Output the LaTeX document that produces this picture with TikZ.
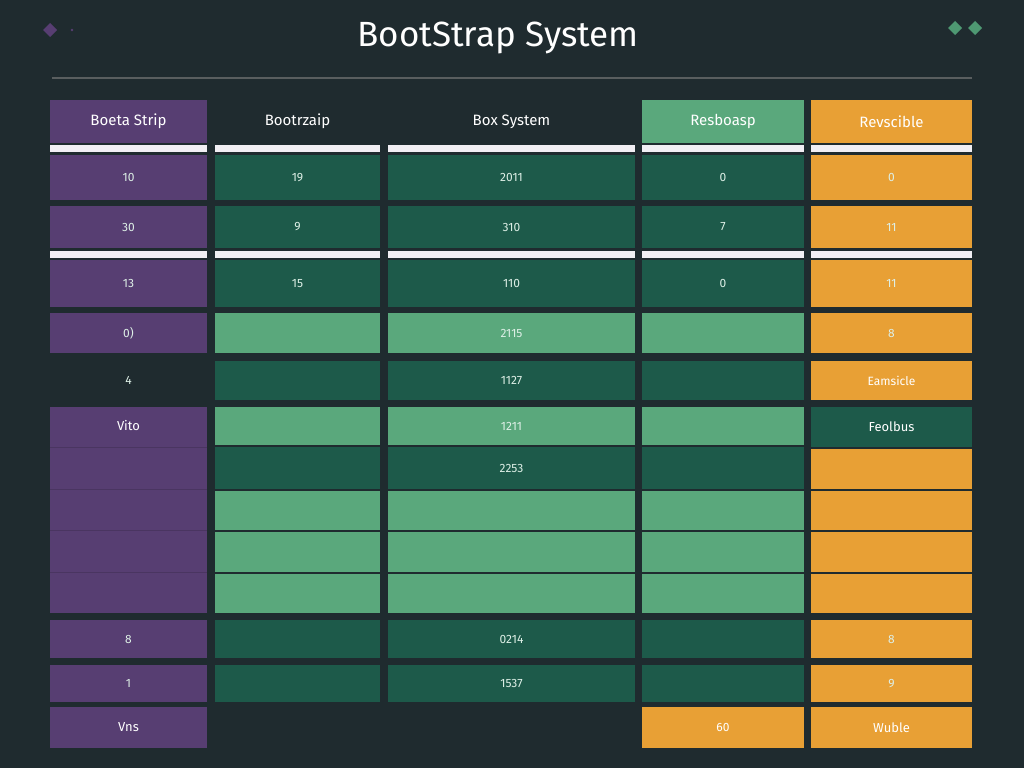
\documentclass[tikz,border=0pt]{standalone}
\usepackage{fontspec}
\setmainfont{Fira Sans}
\definecolor{bg}{HTML}{1F2B2F}
\definecolor{pur}{HTML}{573E72}
\definecolor{dg}{HTML}{1D5A4A}
\definecolor{lg}{HTML}{5AA87C}
\definecolor{org}{HTML}{E8A035}
\definecolor{txl}{HTML}{DDEFE6}
\tikzset{cellb/.style={inner sep=0pt,outer sep=0pt,text=txl,font=\fontsize{12}{14}\selectfont},
 hdr/.style={cellb,text=white,font=\fontsize{15}{17}\selectfont}}
% name, x1, y1, x2, y2, fill, style, text
\newcommand\cellbox[8]{%
 \fill[#6] (#2,#3) rectangle (#4,#5);
 \node[#7] (#1) at ({(#2+#4)/2},{(#3+#5)/2}) {#8};}
\begin{document}
\begin{tikzpicture}[x=1pt,y=-1pt]
\fill[bg] (0,0) rectangle (1024,768);
\useasboundingbox (0,0) rectangle (1024,768);
\node[text=white,font=\fontsize{35}{40}\selectfont] (title) at (498,38) {BootStrap System};
\draw[color=gray!60!bg,line width=1.5pt] (52,78) -- (972,78);
\fill[pur] (50,23) -- (57,30) -- (50,37) -- (43,30) -- cycle;
\fill[pur] (72,30) circle (1.3);
\fill[lg!80!dg] (955,21) -- (962,28) -- (955,35) -- (948,28) -- cycle;
\fill[lg!80!dg] (975,21) -- (982,28) -- (975,35) -- (968,28) -- cycle;
% columns
\def\xa{50}\def\xb{207}\def\xc{215}\def\xd{380}\def\xe{388}\def\xf{635}\def\xg{642}\def\xh{804}\def\xi{811}\def\xj{972}
% header
\cellbox{h1}{\xa}{100}{\xb}{143}{pur}{hdr}{Boeta Strip}
\cellbox{h2}{\xc}{100}{\xd}{143}{bg}{hdr}{Bootrzaip}
\cellbox{h3}{\xe}{100}{\xf}{143}{bg}{hdr}{Box System}
\cellbox{h4}{\xg}{100}{\xh}{143}{lg}{hdr}{Resboasp}
\cellbox{h5}{\xi}{100}{\xj}{143}{org}{hdr}{Revscible}
\foreach \y in {145,251}{
 \fill[white!92!pur] (\xa,\y) rectangle (\xb,\y+7);
 \fill[white!92!pur] (\xc,\y) rectangle (\xd,\y+7);
 \fill[white!92!pur] (\xe,\y) rectangle (\xf,\y+7);
 \fill[white!92!pur] (\xg,\y) rectangle (\xh,\y+7);
 \fill[white!92!pur] (\xi,\y) rectangle (\xj,\y+7);}
% row 1
\cellbox{a1}{\xa}{155}{\xb}{200}{pur}{cellb}{10}
\cellbox{b1}{\xc}{155}{\xd}{200}{dg}{cellb}{19}
\cellbox{c1}{\xe}{155}{\xf}{200}{dg}{cellb}{2011}
\cellbox{d1}{\xg}{155}{\xh}{200}{dg}{cellb}{0}
\cellbox{e1}{\xi}{155}{\xj}{200}{org}{cellb}{0}
% row 2
\cellbox{a2}{\xa}{206}{\xb}{248}{pur}{cellb}{30}
\cellbox{b2}{\xc}{206}{\xd}{248}{dg}{cellb}{9}
\cellbox{c2}{\xe}{206}{\xf}{248}{dg}{cellb}{310}
\cellbox{d2}{\xg}{206}{\xh}{248}{dg}{cellb}{7}
\cellbox{e2}{\xi}{206}{\xj}{248}{org}{cellb}{11}
% row 3
\cellbox{a3}{\xa}{260}{\xb}{307}{pur}{cellb}{13}
\cellbox{b3}{\xc}{260}{\xd}{307}{dg}{cellb}{15}
\cellbox{c3}{\xe}{260}{\xf}{307}{dg}{cellb}{110}
\cellbox{d3}{\xg}{260}{\xh}{307}{dg}{cellb}{0}
\cellbox{e3}{\xi}{260}{\xj}{307}{org}{cellb}{11}
% row 4
\cellbox{a4}{\xa}{313}{\xb}{353}{pur}{cellb}{0)}
\cellbox{b4}{\xc}{313}{\xd}{353}{lg}{cellb}{}
\cellbox{c4}{\xe}{313}{\xf}{353}{lg}{cellb}{2115}
\cellbox{d4}{\xg}{313}{\xh}{353}{lg}{cellb}{}
\cellbox{e4}{\xi}{313}{\xj}{353}{org}{cellb}{8}
% row 5
\cellbox{a5}{\xa}{361}{\xb}{400}{bg}{cellb}{4}
\cellbox{b5}{\xc}{361}{\xd}{400}{dg}{cellb}{}
\cellbox{c5}{\xe}{361}{\xf}{400}{dg}{cellb}{1127}
\cellbox{d5}{\xg}{361}{\xh}{400}{dg}{cellb}{}
\cellbox{e5}{\xi}{361}{\xj}{400}{org}{cellb,text=white}{Eamsicle}
% purple block
\fill[pur] (\xa,407) rectangle (\xb,613);
\foreach \y in {447,489,530,572}{\draw[pur!85!black,line width=0.8pt] (\xa,\y) -- (\xb,\y);}
\node[cellb,text=white,font=\fontsize{13}{15}\selectfont] (a6) at ({(\xa+\xb)/2},426) {Vito};
% row 6
\cellbox{b6}{\xc}{407}{\xd}{445}{lg}{cellb}{}
\cellbox{c6}{\xe}{407}{\xf}{445}{lg}{cellb}{1211}
\cellbox{d6}{\xg}{407}{\xh}{445}{lg}{cellb}{}
\cellbox{e6}{\xi}{407}{\xj}{447}{dg}{cellb,text=white,font=\fontsize{13}{15}\selectfont}{Feolbus}
% row 7
\cellbox{b7}{\xc}{447}{\xd}{489}{dg}{cellb}{}
\cellbox{c7}{\xe}{447}{\xf}{489}{dg}{cellb}{2253}
\cellbox{d7}{\xg}{447}{\xh}{489}{dg}{cellb}{}
% rows 8-10 + orange column
\foreach \ya/\yb in {491/530,532/572,574/613}{
 \fill[lg] (\xc,\ya) rectangle (\xd,\yb);
 \fill[lg] (\xe,\ya) rectangle (\xf,\yb);
 \fill[lg] (\xg,\ya) rectangle (\xh,\yb);}
\foreach \ya/\yb in {449/489,491/530,532/572,574/613}{
 \fill[org] (\xi,\ya) rectangle (\xj,\yb);}
% row 11
\cellbox{a11}{\xa}{620}{\xb}{658}{pur}{cellb}{8}
\cellbox{b11}{\xc}{620}{\xd}{658}{dg}{cellb}{}
\cellbox{c11}{\xe}{620}{\xf}{658}{dg}{cellb}{0214}
\cellbox{d11}{\xg}{620}{\xh}{658}{dg}{cellb}{}
\cellbox{e11}{\xi}{620}{\xj}{658}{org}{cellb}{8}
% row 12
\cellbox{a12}{\xa}{665}{\xb}{702}{pur}{cellb}{1}
\cellbox{b12}{\xc}{665}{\xd}{702}{dg}{cellb}{}
\cellbox{c12}{\xe}{665}{\xf}{702}{dg}{cellb}{1537}
\cellbox{d12}{\xg}{665}{\xh}{702}{dg}{cellb}{}
\cellbox{e12}{\xi}{665}{\xj}{702}{org}{cellb}{9}
% row 13
\cellbox{a13}{\xa}{707}{\xb}{748}{pur}{cellb,text=white,font=\fontsize{13}{15}\selectfont}{Vns}
\cellbox{d13}{\xg}{707}{\xh}{748}{org}{cellb,text=white}{60}
\cellbox{e13}{\xi}{707}{\xj}{748}{org}{cellb,text=white,font=\fontsize{13}{15}\selectfont}{Wuble}
\end{tikzpicture}
\end{document}
